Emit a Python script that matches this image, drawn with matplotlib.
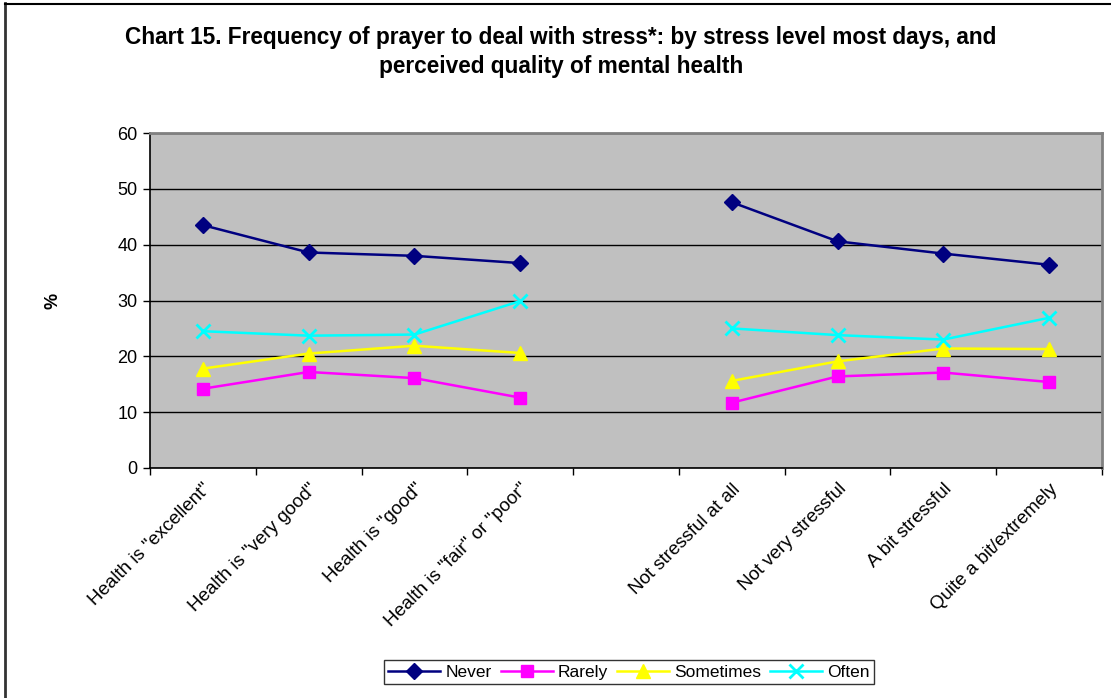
import numpy as np
import matplotlib.pyplot as plt
from matplotlib.lines import Line2D

plt.rcParams['font.family'] = ['Liberation Sans', 'DejaVu Sans']

# categories (blank slot separates the two groups)
categories = ['Health is "excellent"', 'Health is "very good"', 'Health is "good"',
              'Health is "fair" or "poor"', '',
              'Not stressful at all', 'Not very stressful', 'A bit stressful',
              'Quite a bit/extremely']

never = [43.5, 38.6, 38.0, 36.7, np.nan, 47.6, 40.6, 38.4, 36.4]
rarely = [14.2, 17.2, 16.1, 12.6, np.nan, 11.7, 16.4, 17.1, 15.4]
sometimes = [17.8, 20.5, 21.9, 20.6, np.nan, 15.6, 19.1, 21.4, 21.3]
often = [24.5, 23.7, 23.9, 29.9, np.nan, 25.0, 23.8, 23.0, 26.9]

fig = plt.figure(figsize=(11.11, 6.98), dpi=100)
ax = fig.add_axes([150/1111, 1 - 468/698, (1102-150)/1111, (468-133)/698])
ax.set_facecolor('#C0C0C0')

x = np.arange(len(categories))
ax.plot(x, never, color='#000080', lw=1.8, marker='D', ms=8.5, label='Never')
ax.plot(x, rarely, color='#FF00FF', lw=1.8, marker='s', ms=8.5, label='Rarely')
ax.plot(x, sometimes, color='#FFFF00', lw=1.8, marker='^', ms=10, label='Sometimes')
ax.plot(x, often, color='#00FFFF', lw=1.8, marker='x', ms=10, mew=2, label='Often')

ax.set_xlim(-0.5, len(categories) - 0.5)
ax.set_ylim(0, 60)
ax.set_yticks(range(0, 61, 10))
ax.grid(axis='y', color='black', lw=1)
ax.set_axisbelow(True)

ax.set_xticks(x)
ax.set_xticklabels(categories, rotation=45, ha='right', va='top',
                   rotation_mode='anchor', fontsize=13.5)
ax.set_xticks(np.arange(-0.5, len(categories)), minor=True)
ax.tick_params(axis='x', which='major', length=0, pad=9)
ax.tick_params(axis='x', which='minor', length=5, width=1, color='black')
ax.tick_params(axis='y', length=5, width=1, labelsize=13, pad=4)

for side in ['top', 'right']:
    ax.spines[side].set_color('#808080')
    ax.spines[side].set_linewidth(2)
for side in ['left', 'bottom']:
    ax.spines[side].set_color('black')
    ax.spines[side].set_linewidth(1.2)

ax.set_ylabel('%', fontsize=13, fontweight='bold', labelpad=40)

fig.text(0.505, 1 - 52/698,
         'Chart 15. Frequency of prayer to deal with stress*: by stress level most days, and\n'
         'perceived quality of mental health',
         ha='center', va='center', fontsize=16.3, fontweight='bold', linespacing=1.35)

leg = fig.legend(loc='center', bbox_to_anchor=(629/1111, 1 - 672/698), ncol=4,
                 fontsize=12.5, frameon=True, fancybox=False, edgecolor='black',
                 handlelength=3, columnspacing=0.5, handletextpad=0.3,
                 borderpad=0.25)
leg.get_frame().set_linewidth(1)

# outer chart border
fig.add_artist(Line2D([5/1111, 5/1111], [0, 1 - 3/698], color='#333333', lw=2,
                      transform=fig.transFigure))
fig.add_artist(Line2D([5/1111, 1], [1 - 4/698, 1 - 4/698], color='black', lw=1.5,
                      transform=fig.transFigure))

fig.savefig('out.png', dpi=100)
